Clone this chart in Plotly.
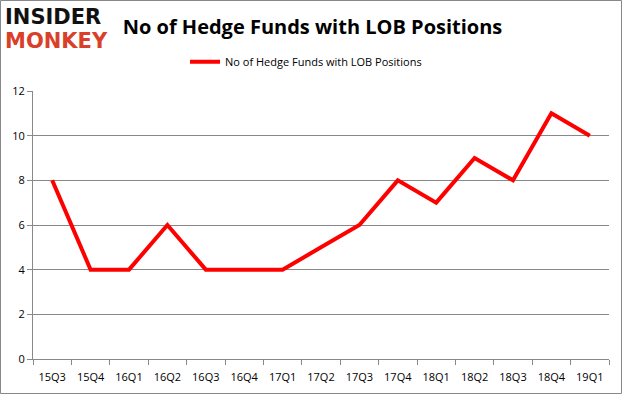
import plotly.graph_objects as go

categories = ["15Q3", "15Q4", "16Q1", "16Q2", "16Q3", "16Q4", "17Q1", "17Q2",
              "17Q3", "17Q4", "18Q1", "18Q2", "18Q3", "18Q4", "19Q1"]
hedge_funds = [8, 4, 4, 6, 4, 4, 4, 5, 6, 8, 7, 9, 8, 11, 10]
series_name = "No of Hedge Funds with LOB Positions"
title_text = "No of Hedge Funds with LOB Positions"
y_ticks = [0, 2, 4, 6, 8, 10, 12]

fig = go.Figure()
fig.add_trace(go.Scatter(
    x=categories, y=hedge_funds, mode="lines", name=series_name,
    line=dict(color="#ff0000", width=4),
))

grid = "#888888"
PW, PH = 576, 268
fig.update_layout(
    width=625, height=395,
    margin=dict(l=33, r=16, t=91, b=36, autoexpand=False),
    paper_bgcolor="white", plot_bgcolor="white",
    font=dict(family="Open Sans, DejaVu Sans, sans-serif", color="#000000", size=11),
    title=dict(text="<b>" + title_text + "</b>", x=0.5, xanchor="center",
               y=0.932, yanchor="middle",
               font=dict(size=20, family="Open Sans, DejaVu Sans, sans-serif", color="#000000")),
    showlegend=True,
    legend=dict(orientation="h", x=0.474, xanchor="center", y=1.109, yanchor="middle",
                font=dict(size=11), bgcolor="rgba(0,0,0,0)"),
    xaxis=dict(type="category", showgrid=False, showline=True, linecolor=grid, linewidth=1,
               ticks="outside", tickson="boundaries", ticklen=5, tickcolor=grid,
               ticklabelstandoff=8,
               tickfont=dict(size=11), range=[-0.5, len(categories) - 0.5], automargin=False),
    yaxis=dict(range=[0, 12], tickvals=y_ticks, showgrid=True, gridcolor=grid, gridwidth=1,
               showline=True, linecolor=grid, linewidth=1, ticks="outside", ticklen=5,
               tickcolor=grid, tickfont=dict(size=11), zeroline=False, automargin=False),
    shapes=[dict(type="rect", xref="paper", yref="paper", x0=-32.5/PW, x1=1 + 12.5/PW,
                 y0=-34.5/PH, y1=1 + 90.5/PH, line=dict(color="#888888", width=1))],
)

fig.add_annotation(text="<b>INSIDER</b>", xref="paper", yref="paper",
                   x=-30/PW, y=1 + (91 - 17) / PH, xanchor="left", yanchor="middle",
                   showarrow=False, font=dict(size=21, color="#111111", family="DejaVu Sans"))
fig.add_annotation(text="<b>MONKEY</b>", xref="paper", yref="paper",
                   x=-30/PW, y=1 + (91 - 41) / PH, xanchor="left", yanchor="middle",
                   showarrow=False, font=dict(size=21, color="#d9402a", family="DejaVu Sans"))

fig.write_html("out.html", config={"displayModeBar": False},
               post_script="document.body.style.margin='0';")
